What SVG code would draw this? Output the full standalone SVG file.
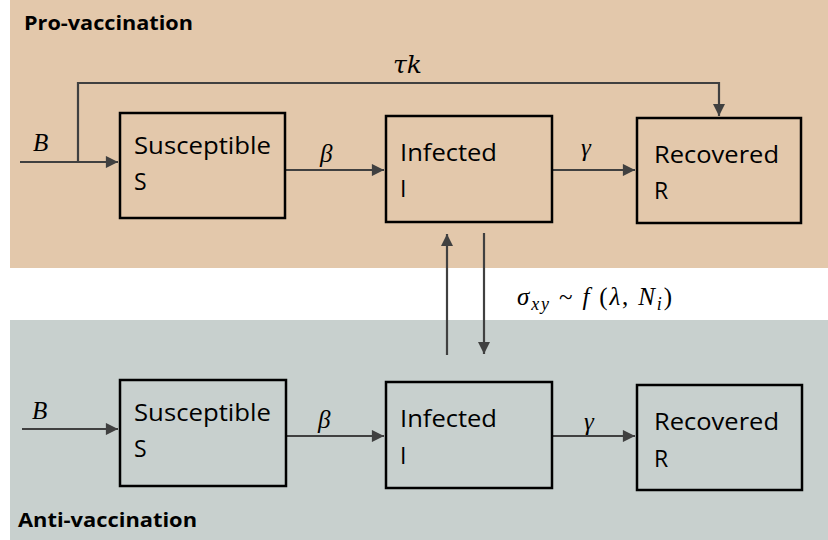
<svg xmlns="http://www.w3.org/2000/svg" width="828" height="540" viewBox="0 0 828 540">
<style>
.box{fill:none;stroke:#000;stroke-width:2.5}
.lbl{font-family:"Open Sans","Liberation Sans",sans-serif;font-size:23px;fill:#000}
.ttl{font-family:"Open Sans","Liberation Sans",sans-serif;font-size:20px;font-weight:bold;fill:#000}
.m{font-family:"Liberation Serif","DejaVu Serif",serif;font-style:italic;font-size:25px;fill:#000}
.ln{fill:none;stroke:#404040;stroke-width:2.2}
</style>
<defs>
<marker id="ah" viewBox="0 0 10 10" refX="10" refY="5" markerWidth="6" markerHeight="5.5" orient="auto" markerUnits="strokeWidth">
<path d="M0,0 L10,5 L0,10 z" fill="#404040"/>
</marker>
</defs>
<rect x="10" y="0" width="818" height="268" fill="#E3C8AB"/>
<rect x="10" y="320" width="818" height="220" fill="#C8D0CE"/>
<text class="ttl" x="24" y="30" textLength="169" lengthAdjust="spacingAndGlyphs">Pro-vaccination</text>
<text class="ttl" x="18" y="527" textLength="179" lengthAdjust="spacingAndGlyphs">Anti-vaccination</text>
<g id="connectors">
<path class="ln" d="M20,162 H118" marker-end="url(#ah)"/>
<path class="ln" d="M78,162 V83 H719 V116" marker-end="url(#ah)"/>
<path class="ln" d="M285,170 H384" marker-end="url(#ah)"/>
<path class="ln" d="M552,170 H635" marker-end="url(#ah)"/>
<path class="ln" d="M447,355 V234" marker-end="url(#ah)"/>
<path class="ln" d="M484,233 V354" marker-end="url(#ah)"/>
<path class="ln" d="M22,429 H118" marker-end="url(#ah)"/>
<path class="ln" d="M286,436 H384" marker-end="url(#ah)"/>
<path class="ln" d="M552,436 H635" marker-end="url(#ah)"/>
</g>
<g id="labels">
<text class="m" x="33" y="151" font-size="22">B</text>
<text class="m" x="393" y="73" font-size="26" style="font-family:'DejaVu Serif',serif">τk</text>
<text class="m" x="320" y="162">β</text>
<text class="m" x="581" y="156">γ</text>
<text class="m" x="517" y="305" font-size="26" textLength="155" lengthAdjust="spacing">σ<tspan font-size="18" dy="5">xy</tspan><tspan dy="-5" font-style="normal"> ~ </tspan>f<tspan font-style="normal"> (</tspan>λ<tspan font-style="normal">, </tspan>N<tspan font-size="18" dy="5">i</tspan><tspan dy="-5" font-style="normal">)</tspan></text>
<text class="m" x="32" y="419" font-size="22">B</text>
<text class="m" x="318" y="428">β</text>
<text class="m" x="584" y="430">γ</text>
</g>
<g id="pro-S">
<rect class="box" x="120" y="113" width="165" height="105"/>
<text class="lbl" x="134" y="154" textLength="137" lengthAdjust="spacingAndGlyphs">Susceptible</text>
<text class="lbl" x="134" y="190">S</text>
</g>
<g id="pro-I">
<rect class="box" x="386" y="116" width="166" height="106"/>
<text class="lbl" x="400" y="161" textLength="97" lengthAdjust="spacingAndGlyphs">Infected</text>
<text class="lbl" x="400" y="197">I</text>
</g>
<g id="pro-R">
<rect class="box" x="637" y="118" width="164" height="105"/>
<text class="lbl" x="654" y="163" textLength="125" lengthAdjust="spacingAndGlyphs">Recovered</text>
<text class="lbl" x="654" y="199">R</text>
</g>
<g id="anti-S">
<rect class="box" x="120" y="380" width="166" height="106"/>
<text class="lbl" x="134" y="421" textLength="137" lengthAdjust="spacingAndGlyphs">Susceptible</text>
<text class="lbl" x="134" y="457">S</text>
</g>
<g id="anti-I">
<rect class="box" x="386" y="382" width="166" height="106"/>
<text class="lbl" x="400" y="427" textLength="97" lengthAdjust="spacingAndGlyphs">Infected</text>
<text class="lbl" x="400" y="464">I</text>
</g>
<g id="anti-R">
<rect class="box" x="637" y="385" width="165" height="105"/>
<text class="lbl" x="654" y="430" textLength="125" lengthAdjust="spacingAndGlyphs">Recovered</text>
<text class="lbl" x="654" y="467">R</text>
</g>
</svg>
